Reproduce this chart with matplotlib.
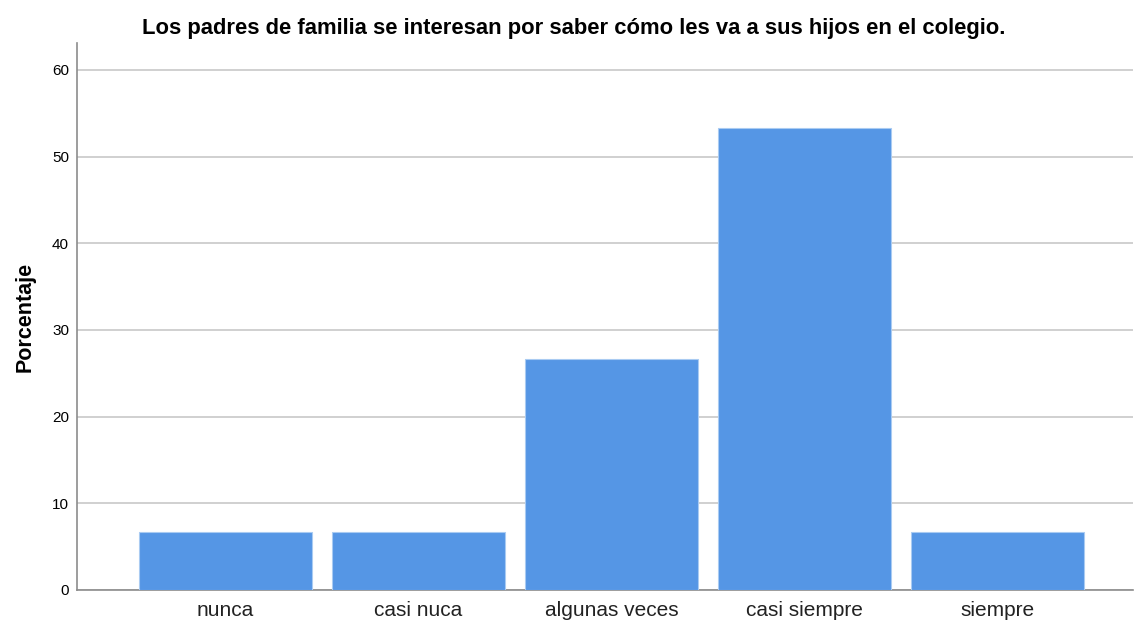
import matplotlib
matplotlib.use('Agg')
import matplotlib.pyplot as plt
import numpy as np

plt.rcParams['font.family'] = ['Liberation Sans', 'DejaVu Sans']

categorias = ['nunca', 'casi nuca', 'algunas veces', 'casi siempre', 'siempre']
porcentajes = [6.67, 6.67, 26.67, 53.33, 6.67]
yticks = [0, 10, 20, 30, 40, 50, 60]

fig = plt.figure(figsize=(11.34, 6.24), dpi=100)
ax = fig.add_axes([0.0676, 0.0545, 0.9314, 0.8765])

x = np.arange(len(categorias))
ax.bar(x, porcentajes, width=0.896, color='#5596E5', edgecolor='#A9CBF2',
       linewidth=0.8, zorder=3)

ax.set_xlim(-0.77, 4.70)
ax.set_ylim(0, 63.1)
ax.set_yticks(yticks)
ax.set_xticks(x)
ax.set_xticklabels(categorias, fontsize=15, color='#222222')
ax.tick_params(axis='y', labelsize=11, length=0, pad=5.5)
ax.tick_params(axis='x', length=0, pad=8)
ax.yaxis.grid(True, color='#C8C8C8', linewidth=1.2, zorder=0)

for s in ['top', 'right']:
    ax.spines[s].set_visible(False)
for s in ['left', 'bottom']:
    ax.spines[s].set_color('#8C8C8C')
    ax.spines[s].set_linewidth(1.2)

ax.set_ylabel('Porcentaje', fontsize=15.5, fontweight='bold', labelpad=12)
fig.text(0.506, 0.955,
         'Los padres de familia se interesan por saber cómo les va a sus hijos en el colegio.',
         ha='center', va='center', fontsize=15.8, fontweight='bold')

fig.savefig('out.png', dpi=100)
